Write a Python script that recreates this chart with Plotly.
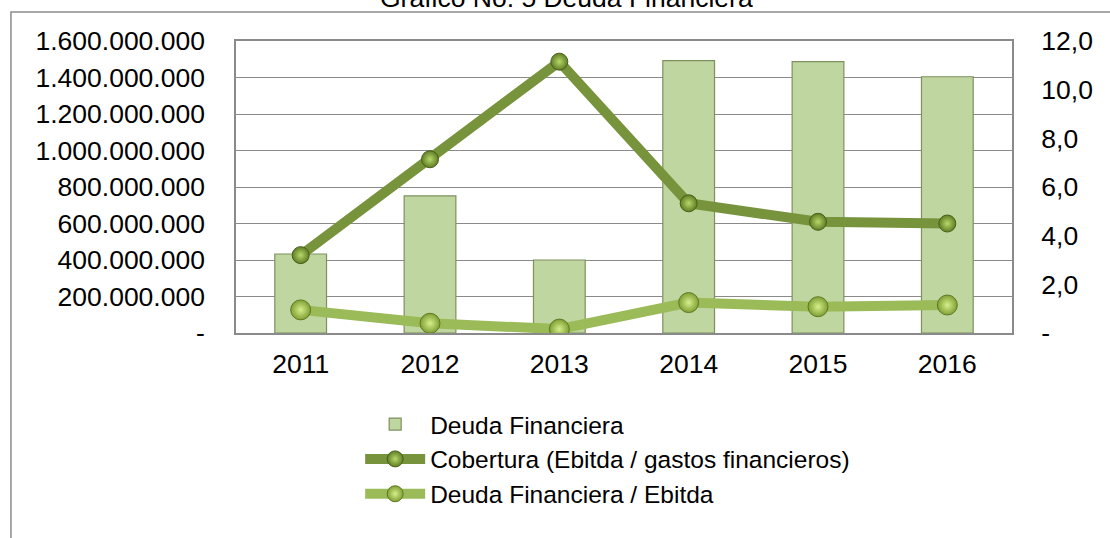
import plotly.graph_objects as go

years = ["2011", "2012", "2013", "2014", "2015", "2016"]
deuda_financiera = [433e6, 751e6, 400e6, 1492e6, 1487e6, 1404e6]
cobertura = [3.2, 7.14, 11.15, 5.33, 4.57, 4.5]
deuda_ebitda = [0.95, 0.40, 0.16, 1.25, 1.08, 1.15]

left_ticks = [0, 2e8, 4e8, 6e8, 8e8, 10e8, 12e8, 14e8, 16e8]
left_labels = ["-", "200.000.000", "400.000.000", "600.000.000", "800.000.000",
               "1.000.000.000", "1.200.000.000", "1.400.000.000", "1.600.000.000"]
right_ticks = [0, 2, 4, 6, 8, 10, 12]
right_labels = ["-", "2,0", "4,0", "6,0", "8,0", "10,0", "12,0"]

FONT = "Liberation Sans, Arial, sans-serif"
GRID = "#8a8a8a"

fig = go.Figure()

# bars: debt
fig.add_trace(go.Bar(
    x=years, y=deuda_financiera, name="Deuda Financiera",
    width=0.4,
    marker=dict(color="#c0d6a0", line=dict(color="#7d915f", width=1.2)),
    legendgroup="a",
))

# coverage line
fig.add_trace(go.Scatter(
    x=years, y=cobertura, yaxis="y2", mode="lines+markers",
    name="Cobertura (Ebitda / gastos financieros)",
    line=dict(color="#77933c", width=10),
    marker=dict(size=17, color="#5f7d24",
                gradient=dict(type="radial", color="#b8d86a"),
                line=dict(color="#4a6119", width=1)),
    legendgroup="b",
))

# debt / ebitda line
fig.add_trace(go.Scatter(
    x=years, y=deuda_ebitda, yaxis="y2", mode="lines+markers",
    name="Deuda Financiera / Ebitda",
    line=dict(color="#9bbb59", width=10),
    marker=dict(size=20, color="#7f9f33",
                gradient=dict(type="radial", color="#d6ef8c"),
                line=dict(color="#5e7a22", width=1)),
    legendgroup="c",
))

fig.update_layout(
    width=1110,
    height=538,
    margin=dict(l=236, r=98, t=41, b=205),
    paper_bgcolor="white",
    plot_bgcolor="white",
    font=dict(family=FONT, size=26.5, color="#000000"),
    xaxis=dict(
        type="category",
        showgrid=False,
        showline=True, linecolor=GRID, linewidth=1.5, mirror=True,
        ticks="outside", ticklen=0, ticklabelstandoff=6,
        tickfont=dict(size=26.5),
    ),
    yaxis=dict(
        range=[0, 1.6e9],
        tickvals=left_ticks, ticktext=left_labels,
        showgrid=True, gridcolor=GRID, gridwidth=1.2,
        showline=True, linecolor=GRID, linewidth=1.5, mirror=True,
        ticks="outside", ticklen=0, ticklabelstandoff=24,
        zeroline=False,
        tickfont=dict(size=26.5),
    ),
    yaxis2=dict(
        range=[0, 12], overlaying="y", side="right",
        tickvals=right_ticks, ticktext=right_labels,
        showgrid=False, zeroline=False,
        ticks="outside", ticklen=0, ticklabelstandoff=23,
        tickfont=dict(size=26.5),
    ),
    legend=dict(
        x=0.16, y=-0.235, xanchor="left", yanchor="top",
        orientation="v", traceorder="normal",
        tracegroupgap=7, itemwidth=60,
        font=dict(size=24.5),
        bgcolor="rgba(0,0,0,0)",
    ),
    showlegend=True,
    shapes=[dict(
        type="rect", xref="paper", yref="paper",
        x0=-0.29, x1=1.4, y0=-1.0, y1=1.0993,
        line=dict(color="#8c8c8c", width=1.5), layer="below",
    )],
    annotations=[dict(
        text="Gráfico No. 5 Deuda Financiera",
        xref="paper", yref="paper", x=(566 - 236) / 776, y=1.089,
        xanchor="center", yanchor="bottom", showarrow=False,
        font=dict(size=26.5),
    )],
)

# drop the default 8px page margin so the figure sits at the window origin
fig.write_html(
    "out.html",
    config={"displayModeBar": False},
    post_script="document.body.style.margin='0';",
)
